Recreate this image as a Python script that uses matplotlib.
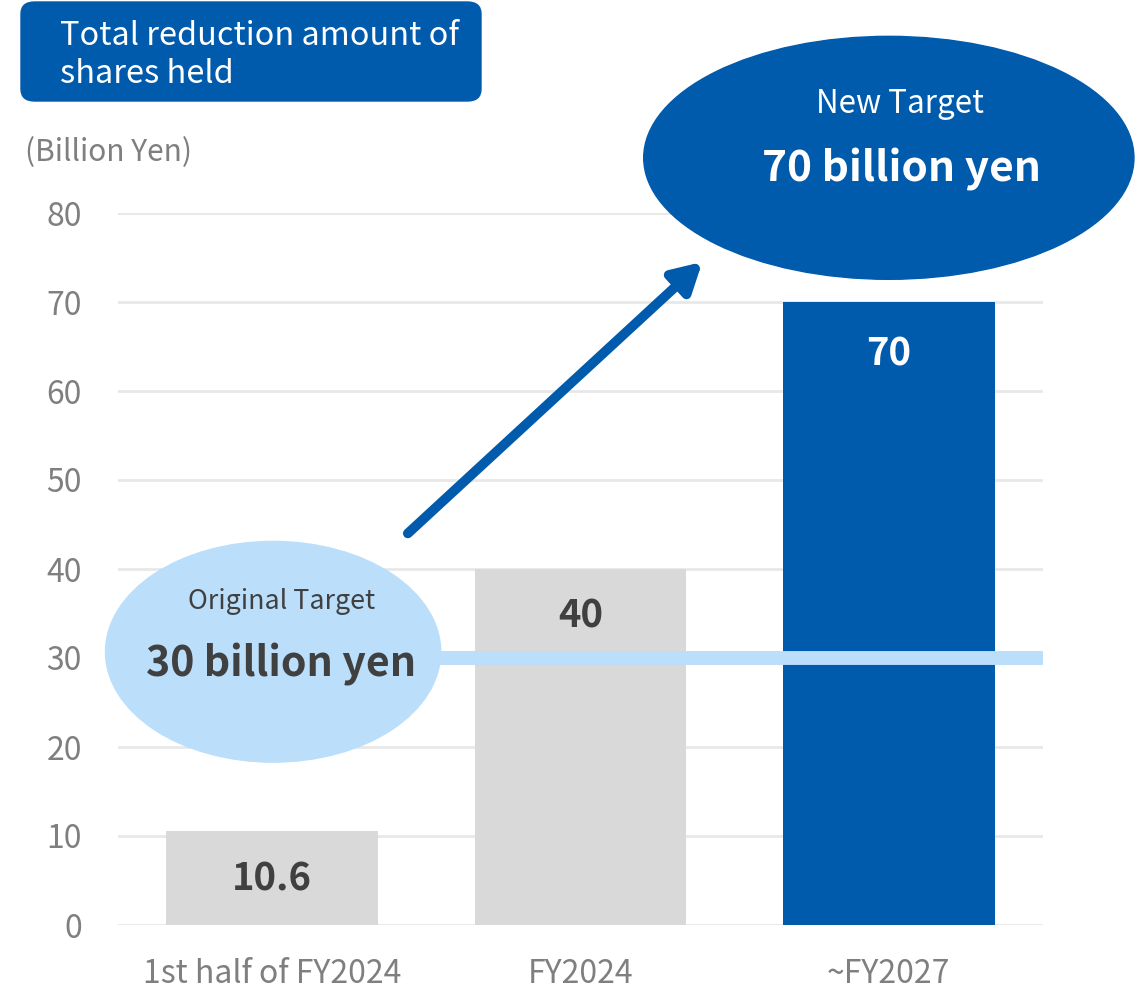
import matplotlib.pyplot as plt
from matplotlib.patches import Ellipse, FancyBboxPatch

plt.rcParams['font.family'] = ['Noto Sans CJK JP', 'DejaVu Sans']

categories = ["1st half of FY2024", "FY2024", "~FY2027"]
values = [10.6, 40, 70]
value_labels = ["10.6", "40", "70"]
original_target = 30
new_target = 70

BLUE = "#005BAC"
LIGHT_BLUE = "#BBDEFB"
GRAY_BAR = "#D9D9D9"
DARK_TEXT = "#404040"
AXIS_TEXT = "#7F7F7F"

fig = plt.figure(figsize=(11.4, 9.93), dpi=100)
ax = fig.add_axes([118 / 1140, 68 / 993, (1043 - 118) / 1140, 712 / 993])

x = range(len(categories))
colors = [GRAY_BAR, GRAY_BAR, BLUE]
ax.bar(x, values, width=0.686, color=colors, zorder=2)

ax.set_xlim(-0.5, 2.5)
ax.set_ylim(0, 80)
ax.set_yticks(range(0, 81, 10))
ax.set_xticks(list(x))
ax.set_xticklabels(categories)
ax.grid(axis="y", color="#E8E8E8", linewidth=2, zorder=0)
ax.set_axisbelow(True)
for s in ax.spines.values():
    s.set_visible(False)
ax.tick_params(length=0, labelsize=23, labelcolor=AXIS_TEXT)
ax.tick_params(axis="y", pad=26)
ax.tick_params(axis="x", pad=24)

# value labels inside bars
label_y = [5.2, 34.7, 64.2]
label_colors = [DARK_TEXT, DARK_TEXT, "white"]
for i, (lbl, yy, c) in enumerate(zip(value_labels, label_y, label_colors)):
    ax.text(i, yy, lbl, ha="center", va="center", fontsize=27.5,
            fontweight="bold", color=c, zorder=5)

# original target line and bubble
ax.plot([0, 2.5], [original_target, original_target], color=LIGHT_BLUE,
        linewidth=10, solid_capstyle="butt", zorder=3)
ax.add_patch(Ellipse((0.003, original_target + 0.7), 1.087, 24.8,
                     color=LIGHT_BLUE, zorder=4, clip_on=False))
ax.text(0.03, original_target + 6.4, "Original Target", ha="center",
        va="center", fontsize=19.3, color=DARK_TEXT, zorder=5)
ax.text(0.03, original_target - 0.7, f"{original_target} billion yen",
        ha="center", va="center", fontsize=29.6, fontweight="bold",
        color=DARK_TEXT, zorder=5)

# arrow up to the new target
ax.annotate("", xy=(1.395, 74.5), xytext=(0.44, 44.0),
            arrowprops=dict(arrowstyle="-|>,head_length=1.7,head_width=0.95",
                            color=BLUE, linewidth=7, shrinkA=0, shrinkB=0,
                            capstyle="round"),
            annotation_clip=False, zorder=4)

# new target bubble
ax.add_patch(Ellipse((2.0, 86.2), 1.59, 27.3, color=BLUE, zorder=4,
                     clip_on=False))
ax.text(2.035, 92.3, "New Target", ha="center", va="center", fontsize=22.6,
        color="white", zorder=5, clip_on=False)
ax.text(2.04, 84.9, f"{new_target} billion yen", ha="center", va="center",
        fontsize=30.5, fontweight="bold", color="white", zorder=5,
        clip_on=False)

# title box
fig.patches.append(FancyBboxPatch((21 / 1140, 1 - 101 / 993),
                                  460 / 1140, 99 / 993,
                                  boxstyle="round,pad=0,rounding_size=0.012",
                                  transform=fig.transFigure, color=BLUE))
fig.text(60 / 1140, 1 - 55 / 993, "Total reduction amount of\nshares held",
         ha="left", va="center", fontsize=23.4, color="white",
         linespacing=1.25)

fig.text(25 / 1140, 1 - 153 / 993, "(Billion Yen)", ha="left", va="center",
         fontsize=21.5, color=AXIS_TEXT)

fig.savefig("out.png", dpi=100)
